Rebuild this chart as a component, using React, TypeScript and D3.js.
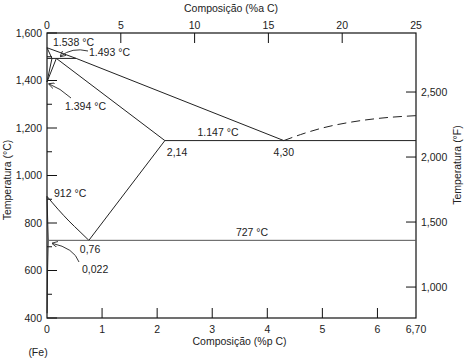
import * as d3 from 'd3';
import React from 'react';

// eixos
const wtTicks = [0, 1, 2, 3, 4, 5, 6];
const wtMax = 6.7;
const atTicks = [0, 5, 10, 15, 20, 25];
const tempMajor = [400, 600, 800, 1000, 1200, 1400, 1600];
const tempMinor = [500, 700, 900, 1100, 1300, 1500];
const fTicks = [1000, 1500, 2000, 2500];

// linhas do diagrama (%p C, °C)
type Pt = [number, number];
const liquidus: Pt[] = [[0, 1538], [0.53, 1493], [4.3, 1147]];
const deltaSolidus: Pt[] = [[0, 1538], [0.09, 1493]];
const deltaGamma1: Pt[] = [[0, 1394], [0.09, 1493]];
const deltaGamma2: Pt[] = [[0, 1394], [0.17, 1493]];
const peritectic: Pt[] = [[0, 1493], [0.53, 1493]];
const gammaSolidus: Pt[] = [[0.17, 1493], [2.14, 1147]];
const eutectic: Pt[] = [[2.14, 1147], [6.7, 1147]];
const cementiteLiq: Pt[] = [[4.3, 1147], [4.6, 1172], [5, 1200], [5.5, 1224], [6, 1240], [6.7, 1252]];
const a3: Pt[] = [[0, 912], [0.2, 858], [0.4, 808], [0.6, 763], [0.76, 727]];
const acm: Pt[] = [[0.76, 727], [2.14, 1147]];
const alphaLine: Pt[] = [[0, 912], [0.022, 727]];
const alphaSolvus: Pt[] = [[0.022, 727], [0.01, 600], [0.002, 420]];
const eutectoid: Pt[] = [[0.022, 727], [6.7, 727]];

const W = 465;
const H = 361;
const font = '"Liberation Sans Narrow", "Liberation Sans", Arial, sans-serif';

export default function App() {
  const x = d3.scaleLinear().domain([0, wtMax]).range([47, 416]);
  const xAt = d3.scaleLinear().domain([0, 25]).range([47, 416]);
  const y = d3.scaleLinear().domain([400, 1600]).range([318, 33]);
  const yF = d3.scaleLinear().domain([762, 2954]).range([318, 33]);

  const line = d3.line<Pt>().x((d) => x(d[0])).y((d) => y(d[1]));
  const curve = d3.line<Pt>().x((d) => x(d[0])).y((d) => y(d[1])).curve(d3.curveMonotoneX);
  const fmt = d3.format(',');

  const solid = [liquidus, deltaSolidus, deltaGamma1, deltaGamma2, peritectic, gammaSolidus, eutectic, acm, alphaLine, alphaSolvus];

  // setas: da etiqueta até o ponto
  const arrow = (sx: number, sy: number, cx: number, cy: number, tx: number, ty: number) =>
    `M${sx},${sy} Q${cx},${cy} ${tx},${ty}`;

  const p1493: Pt = [0.17, 1493];
  const p1394: Pt = [0, 1394];
  const p022: Pt = [0.022, 727];

  return (
    <svg width={W} height={H} style={{ position: 'absolute', left: 0, top: 0, background: '#fff' }}
      fontFamily={font} fontSize={10.5} fill="#222">
      <defs>
        <marker id="ah" viewBox="0 0 10 10" refX="9" refY="5" markerWidth="7" markerHeight="7" orient="auto">
          <path d="M0,0 L10,5 L0,10" fill="none" stroke="#222" strokeWidth={1.3} />
        </marker>
      </defs>

      {/* moldura */}
      <rect x={x(0)} y={y(1600)} width={x(wtMax) - x(0)} height={y(400) - y(1600)} fill="none" stroke="#111" strokeWidth={1.2} />

      {/* eixo esquerdo */}
      {tempMajor.map((t) => (
        <g key={t}>
          <line x1={x(0)} x2={x(0) + 10} y1={y(t)} y2={y(t)} stroke="#111" />
          <text x={42} y={y(t) + 3.5} textAnchor="end">{fmt(t)}</text>
        </g>
      ))}
      {tempMinor.map((t) => (
        <line key={t} x1={x(0)} x2={x(0) + 5} y1={y(t)} y2={y(t)} stroke="#111" />
      ))}
      <text transform={`translate(11,${180}) rotate(-90)`} textAnchor="middle">Temperatura (°C)</text>

      {/* eixo direito */}
      {fTicks.map((f) => (
        <g key={f}>
          <line x1={x(wtMax) - 10} x2={x(wtMax)} y1={yF(f)} y2={yF(f)} stroke="#111" />
          <text x={421} y={yF(f) + 3.5}>{fmt(f)}</text>
        </g>
      ))}
      <text transform={`translate(461,${165}) rotate(-90)`} textAnchor="middle">Temperatura (°F)</text>

      {/* eixo inferior */}
      {wtTicks.map((v) => (
        <g key={v}>
          {v > 0 && <line x1={x(v)} x2={x(v)} y1={y(400)} y2={y(400) - 10} stroke="#111" />}
          <text x={x(v)} y={333} textAnchor="middle">{v}</text>
        </g>
      ))}
      <text x={x(wtMax)} y={333} textAnchor="middle">6,70</text>
      <text x={x(wtMax / 2) + 8} y={345} textAnchor="middle">Composição (%p C)</text>
      <text x={38} y={356} textAnchor="middle">(Fe)</text>

      {/* eixo superior */}
      {atTicks.map((v) => (
        <g key={v}>
          {v > 0 && v < 25 && <line x1={xAt(v)} x2={xAt(v)} y1={y(1600)} y2={y(1600) + 10} stroke="#111" />}
          <text x={xAt(v)} y={29} textAnchor="middle">{v}</text>
        </g>
      ))}
      <text x={231} y={12} textAnchor="middle">Composição (%a C)</text>

      {/* linhas de fase */}
      <g fill="none" stroke="#222" strokeWidth={1}>
        {solid.map((d, i) => (
          <path key={i} d={line(d) ?? ''} />
        ))}
        <path d={curve(a3) ?? ''} />
        <path d={line(eutectoid) ?? ''} stroke="#555" />
        <path d={curve(cementiteLiq) ?? ''} strokeDasharray="9,5" />
      </g>

      {/* setas */}
      <g fill="none" stroke="#222" strokeWidth={0.9} markerEnd="url(#ah)">
        <path d={arrow(88, 51, 72, 47, x(p1493[0]) + 4, y(p1493[1]) - 2)} />
        <path d={arrow(71, 98, 60, 88, x(p1394[0]) + 2, y(p1394[1]) + 2)} />
        <path d={arrow(79, 262, 74, 248, x(p022[0]) + 4, y(p022[1]) + 3)} />
      </g>

      {/* rótulos */}
      <text x={53} y={46}>1.538 °C</text>
      <text x={89} y={56}>1.493 °C</text>
      <text x={65} y={110}>1.394 °C</text>
      <text x={218} y={136} textAnchor="middle">1.147 °C</text>
      <text x={x(2.14) + 2} y={156}>2,14</text>
      <text x={x(4.3)} y={156} textAnchor="middle">4,30</text>
      <text x={54} y={197}>912 °C</text>
      <text x={x(0.76) - 9} y={253}>0,76</text>
      <text x={252} y={236} textAnchor="middle">727 °C</text>
      <text x={82} y={273}>0,022</text>
    </svg>
  );
}
